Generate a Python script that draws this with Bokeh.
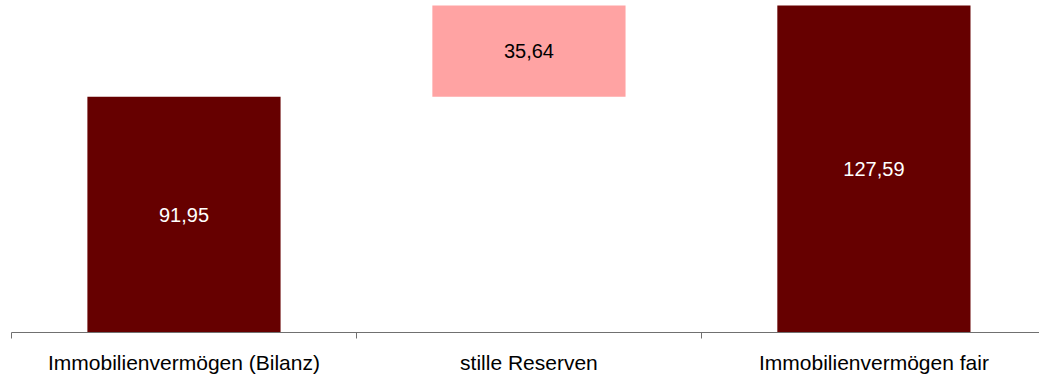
from bokeh.plotting import figure
from bokeh.models import ColumnDataSource, FixedTicker, Range1d
from bokeh.core.properties import value
from bokeh.embed import file_html
from bokeh.resources import INLINE

categories = ["Immobilienvermögen (Bilanz)", "stille Reserven", "Immobilienvermögen fair"]
bottoms = [0.0, 91.95, 0.0]
tops = [91.95, 127.59, 127.59]
labels = ["91,95", "35,64", "127,59"]
colors = ["#660000", "#FFA3A3", "#660000"]
label_colors = ["#FFFFFF", "#000000", "#FFFFFF"]

xs = list(range(len(categories)))
mids = [(b + t) / 2 for b, t in zip(bottoms, tops)]

src = ColumnDataSource(dict(x=xs, bottom=bottoms, top=tops, color=colors,
                            label=labels, lc=label_colors, mid=mids))

p = figure(width=1039, height=376, output_backend="svg", toolbar_location=None,
           x_range=Range1d(-0.5, 2.48), y_range=Range1d(0, 129.55),
           min_border_left=11, min_border_right=0, min_border_top=0, min_border_bottom=0)
p.outline_line_color = None
p.grid.visible = False
p.yaxis.visible = False
p.background_fill_color = "white"
p.border_fill_color = "white"

p.vbar(x="x", width=0.56, bottom="bottom", top="top", fill_color="color",
       line_color=None, source=src)
p.text(x="x", y="mid", text="label", text_color="lc", text_align="center",
       text_baseline="middle", text_font=value("Liberation Sans"),
       text_font_size="20px", source=src)

ax = p.xaxis[0]
ax.ticker = FixedTicker(ticks=xs, minor_ticks=[-0.5, 0.5, 1.5, 2.5])
ax.major_label_overrides = {i: c for i, c in enumerate(categories)}
ax.major_tick_out = 0
ax.major_tick_in = 0
ax.minor_tick_out = 6
ax.minor_tick_in = 0
ax.axis_line_color = "#707070"
ax.minor_tick_line_color = "#707070"
ax.major_label_text_font = "Liberation Sans"
ax.major_label_text_font_size = "21px"
ax.major_label_text_color = "#000000"
ax.major_label_standoff = 12

open("out.html", "w").write(file_html(p, INLINE))
